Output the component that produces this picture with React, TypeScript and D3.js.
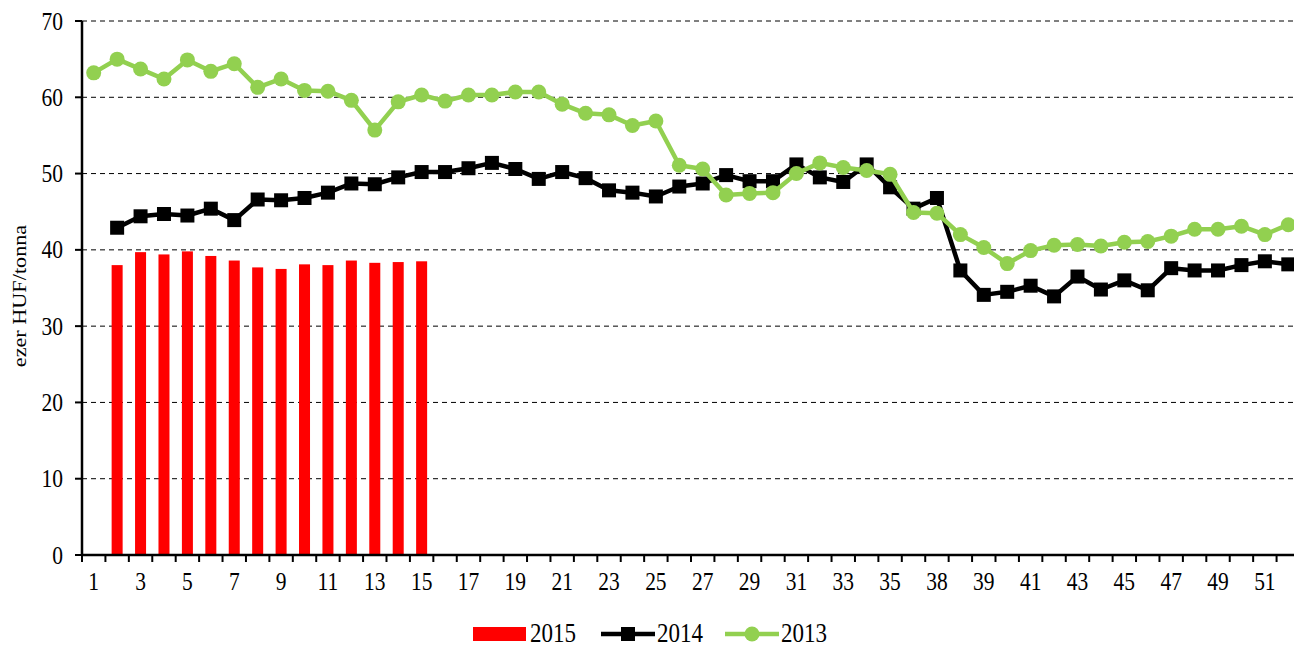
import * as d3 from 'd3';

// week labels (the 37th position is labelled "38" in the source chart)
const weeks = [
  '1', '2', '3', '4', '5', '6', '7', '8', '9', '10', '11', '12', '13', '14', '15', '16', '17', '18',
  '19', '20', '21', '22', '23', '24', '25', '26', '27', '28', '29', '30', '31', '32', '33', '34', '35', '36',
  '38', '38', '39', '40', '41', '42', '43', '44', '45', '46', '47', '48', '49', '50', '51', '52',
];

// 2015: weeks 2..15
const values2015: (number | null)[] = [
  null, 38.0, 39.7, 39.4, 39.8, 39.2, 38.6, 37.7, 37.5, 38.1, 38.0, 38.6, 38.3, 38.4, 38.5,
];

// 2014: weeks 2..52
const values2014: (number | null)[] = [
  null, 42.9, 44.4, 44.7, 44.5, 45.4, 43.9, 46.6, 46.5, 46.8, 47.5, 48.7, 48.6, 49.5, 50.2,
  50.2, 50.7, 51.4, 50.6, 49.3, 50.2, 49.4, 47.8, 47.5, 47.0, 48.3, 48.7, 49.8, 49.0, 49.0,
  51.2, 49.5, 48.9, 51.2, 48.2, 45.4, 46.8, 37.3, 34.1, 34.5, 35.3, 33.9, 36.5, 34.8, 36.0,
  34.7, 37.6, 37.3, 37.3, 38.0, 38.5, 38.1,
];

// 2013: weeks 1..52
const values2013: (number | null)[] = [
  63.2, 65.0, 63.7, 62.4, 64.9, 63.4, 64.4, 61.3, 62.4, 60.9, 60.8, 59.6, 55.7, 59.4, 60.3,
  59.5, 60.3, 60.3, 60.7, 60.7, 59.1, 57.9, 57.7, 56.3, 56.9, 51.1, 50.6, 47.2, 47.4, 47.5,
  50.0, 51.4, 50.8, 50.4, 49.9, 44.9, 44.8, 42.0, 40.3, 38.2, 39.9, 40.6, 40.7, 40.5, 41.0,
  41.1, 41.8, 42.7, 42.7, 43.1, 42.0, 43.3,
];

const yTicks = [0, 10, 20, 30, 40, 50, 60, 70];

const W = 1294;
const H = 646;
const left = 82;
const right = 1300;
const top = 21;
const bottom = 555;
const FONT = "'Liberation Serif', 'DejaVu Serif', serif";
const GREEN = '#92d050';
const RED = '#ff0000';
const SY = 1.17; // the source text is a little stretched vertically

function T({ x, y, size, anchor = 'start', children }: { x: number; y: number; size: number; anchor?: string; children: any }) {
  return (
    <text
      transform={`translate(${x},${y}) scale(1,${SY})`}
      textAnchor={anchor}
      fontSize={size}
      style={{ fontFamily: FONT, fill: '#000' }}
    >
      {children}
    </text>
  );
}

export default function App() {
  const idx = weeks.map((_, i) => String(i));
  const x = d3.scaleBand<string>().domain(idx).range([left, right]).paddingInner(0).paddingOuter(0);
  const y = d3.scaleLinear().domain([0, 70]).range([bottom, top]);
  const bw = x.bandwidth();
  const cx = (i: number) => (x(String(i)) ?? 0) + bw / 2;

  const line = d3
    .line<number | null>()
    .defined((d) => d != null)
    .x((_, i) => cx(i))
    .y((d) => y(d as number));

  const barW = bw * 0.47;

  return (
    <svg
      width={W}
      height={H}
      style={{ position: 'absolute', left: 0, top: 0, display: 'block', background: '#fff', fontFamily: FONT }}
    >
      {/* gridlines */}
      {yTicks.filter((t) => t > 0).map((t) => (
        <line key={t} x1={left} x2={W} y1={y(t)} y2={y(t)} stroke="#000" strokeWidth={1} strokeDasharray="5,4" />
      ))}

      {/* 2015 bars */}
      {values2015.map((v, i) =>
        v == null ? null : (
          <rect key={i} x={cx(i) - barW / 2} y={y(v)} width={barW} height={y(0) - y(v)} fill={RED} />
        ),
      )}

      {/* 2014 */}
      <path d={line(values2014) ?? ''} fill="none" stroke="#000" strokeWidth={4.5} strokeLinejoin="round" />
      {values2014.map((v, i) =>
        v == null ? null : <rect key={i} x={cx(i) - 7} y={y(v) - 7} width={14} height={14} fill="#000" />,
      )}

      {/* 2013 */}
      <path d={line(values2013) ?? ''} fill="none" stroke={GREEN} strokeWidth={4.5} strokeLinejoin="round" />
      {values2013.map((v, i) =>
        v == null ? null : <circle key={i} cx={cx(i)} cy={y(v)} r={7.5} fill={GREEN} />,
      )}

      {/* y axis */}
      <line x1={left} x2={left} y1={top} y2={bottom} stroke="#000" strokeWidth={2.5} />
      {yTicks.map((t) => (
        <g key={t}>
          <line x1={left - 7} x2={left} y1={y(t)} y2={y(t)} stroke="#000" strokeWidth={2} />
          <T x={left - 19} y={y(t) + 8.5} size={21.5} anchor="end">
            {t}
          </T>
        </g>
      ))}
      <text
        transform={`translate(26, ${(top + bottom) / 2 + 8}) rotate(-90) scale(${SY},1)`}
        textAnchor="middle"
        fontSize={19}
        style={{ fontFamily: FONT, fill: '#000' }}
      >
        ezer HUF/tonna
      </text>

      {/* x axis */}
      <line x1={left} x2={W} y1={bottom} y2={bottom} stroke="#000" strokeWidth={2.5} />
      {weeks.map((_, i) => (
        <line
          key={i}
          x1={x(String(i))! + bw}
          x2={x(String(i))! + bw}
          y1={bottom}
          y2={bottom + 7}
          stroke="#000"
          strokeWidth={2}
        />
      ))}
      <line x1={left} x2={left} y1={bottom} y2={bottom + 7} stroke="#000" strokeWidth={2} />
      {weeks.map((w, i) =>
        i % 2 === 0 ? (
          <T key={i} x={cx(i)} y={590} size={21.5} anchor="middle">
            {w}
          </T>
        ) : null,
      )}

      {/* legend */}
      <g>
        <rect x={473} y={627} width={53} height={14} fill={RED} />
        <T x={530} y={642} size={23}>2015</T>
        <line x1={601} x2={655} y1={634} y2={634} stroke="#000" strokeWidth={4.5} />
        <rect x={621} y={627} width={14} height={14} fill="#000" />
        <T x={657} y={642} size={23}>2014</T>
        <line x1={725} x2={779} y1={634} y2={634} stroke={GREEN} strokeWidth={4.5} />
        <circle cx={752} cy={634} r={7.5} fill={GREEN} />
        <T x={781} y={642} size={23}>2013</T>
      </g>
    </svg>
  );
}
